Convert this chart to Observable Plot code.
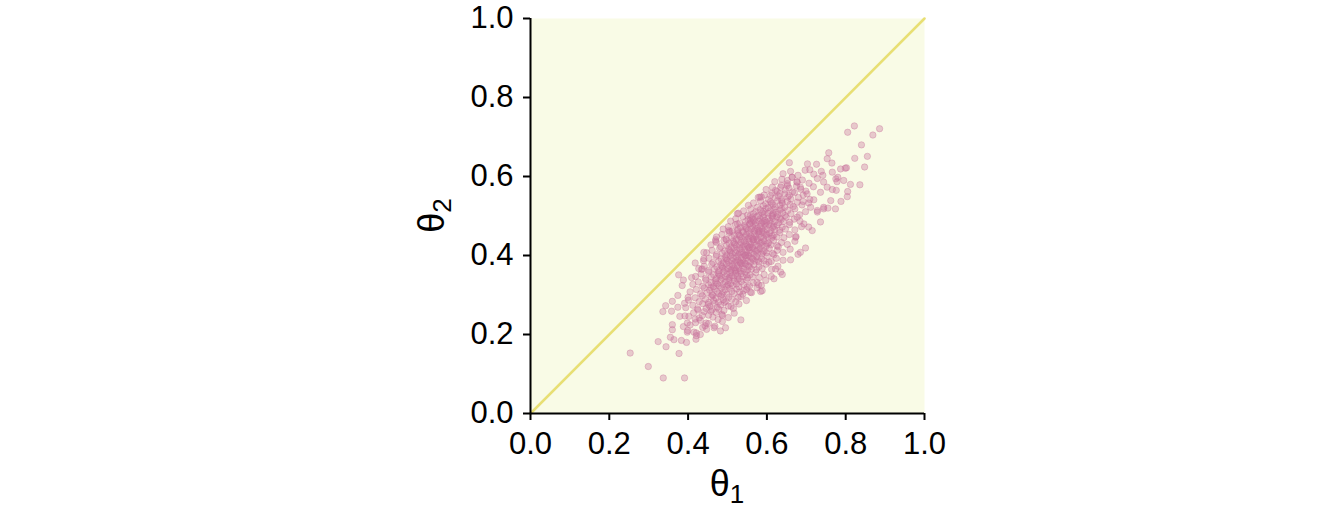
<!DOCTYPE html>
<html><head><meta charset="utf-8">
<script src="https://cdn.jsdelivr.net/npm/d3@7"></script>
<script src="https://cdn.jsdelivr.net/npm/@observablehq/plot@0.6"></script>
<style>
body{margin:0;background:#fff;}
#chart g[aria-label="x-axis tick label"], #chart g[aria-label="y-axis tick label"] { font-size: 31px !important; }
</style>
</head><body><div id="chart"></div>
<script>
const xTicks = [0, 0.2, 0.4, 0.6, 0.8, 1.0];
const yTicks = [0, 0.2, 0.4, 0.6, 0.8, 1.0];
const xLabel = "θ"; const xSub = "1";
const yLabel = "θ"; const ySub = "2";
const diagonal = [[0, 0], [1, 1]];

const upperTail = [[0.822,0.728],[0.805,0.712],[0.886,0.721],[0.869,0.705],[0.840,0.680],[0.855,0.651],[0.823,0.646],[0.848,0.624],[0.757,0.660],[0.753,0.645],[0.765,0.634],[0.657,0.635],[0.703,0.632],[0.726,0.631],[0.799,0.621],[0.780,0.598],[0.795,0.590],[0.812,0.580],[0.836,0.579],[0.805,0.562],[0.804,0.549],[0.788,0.537],[0.762,0.539],[0.774,0.518],[0.755,0.520],[0.744,0.518],[0.728,0.510],[0.736,0.485],[0.715,0.463],[0.586,0.548],[0.709,0.617],[0.738,0.613],[0.742,0.603],[0.766,0.611],[0.787,0.619],[0.802,0.622],[0.775,0.594],[0.778,0.587],[0.744,0.586],[0.753,0.573],[0.766,0.567],[0.776,0.565],[0.736,0.560],[0.719,0.541],[0.702,0.556],[0.692,0.537],[0.677,0.586],[0.664,0.598],[0.652,0.590],[0.635,0.573],[0.622,0.565],[0.609,0.552],[0.685,0.573],[0.711,0.522],[0.728,0.514],[0.744,0.522],[0.677,0.497],[0.694,0.480],[0.706,0.472]];

const lowerEdge = [[0.698,0.419],[0.679,0.403],[0.660,0.389],[0.639,0.352],[0.586,0.324],[0.584,0.309],[0.622,0.366],[0.605,0.383],[0.673,0.446],[0.685,0.408],[0.635,0.358],[0.618,0.341],[0.588,0.311],[0.541,0.311],[0.575,0.332],[0.558,0.307],[0.550,0.320],[0.527,0.294],[0.509,0.271],[0.534,0.237],[0.495,0.217],[0.487,0.248],[0.446,0.229]];

const upperEdge = [[0.582,0.548],[0.525,0.506],[0.558,0.501],[0.525,0.480],[0.506,0.461],[0.470,0.440],[0.497,0.440],[0.525,0.463],[0.561,0.484],[0.558,0.489],[0.503,0.463],[0.440,0.408],[0.440,0.392],[0.436,0.366],[0.470,0.436],[0.418,0.381],[0.434,0.365],[0.409,0.344],[0.388,0.338],[0.376,0.351],[0.385,0.324]];

const lowerTail = [[0.253,0.153],[0.299,0.119],[0.337,0.090],[0.391,0.090],[0.377,0.152],[0.344,0.169],[0.324,0.182],[0.355,0.193],[0.364,0.187],[0.383,0.185],[0.396,0.180],[0.420,0.188],[0.421,0.197],[0.431,0.200],[0.360,0.212],[0.360,0.225],[0.388,0.220],[0.398,0.229],[0.399,0.210],[0.415,0.206],[0.336,0.258],[0.343,0.273],[0.360,0.284],[0.358,0.259],[0.374,0.269],[0.379,0.246],[0.391,0.279],[0.400,0.294],[0.402,0.246],[0.419,0.230],[0.424,0.265],[0.374,0.299]];

const core = [
[0.398,0.206],[0.447,0.213],[0.466,0.217],[0.421,0.204],[0.482,0.209],[0.437,0.218],
[0.405,0.224],[0.431,0.236],[0.452,0.228],[0.468,0.221],[0.487,0.233],[0.418,0.239],[0.476,0.238],[0.443,0.222],
[0.392,0.247],[0.414,0.255],[0.428,0.242],[0.441,0.258],[0.452,0.249],[0.463,0.244],[0.471,0.256],[0.486,0.251],[0.502,0.243],[0.436,0.248],[0.458,0.259],[0.517,0.254],
[0.394,0.268],[0.412,0.274],[0.425,0.262],[0.437,0.278],[0.446,0.266],[0.455,0.271],[0.461,0.263],[0.468,0.279],[0.474,0.269],[0.483,0.275],[0.491,0.261],[0.502,0.272],[0.515,0.266],[0.529,0.277],[0.451,0.276],[0.478,0.264],
[0.401,0.287],[0.418,0.293],[0.428,0.283],[0.436,0.298],[0.444,0.289],[0.452,0.281],[0.459,0.295],[0.465,0.286],[0.471,0.292],[0.477,0.282],[0.483,0.297],[0.489,0.288],[0.496,0.284],[0.503,0.294],[0.511,0.289],[0.521,0.283],[0.534,0.296],[0.548,0.286],[0.463,0.299],[0.492,0.281],
[0.405,0.308],[0.421,0.314],[0.432,0.303],[0.441,0.318],[0.448,0.306],[0.455,0.312],[0.461,0.301],[0.467,0.316],[0.473,0.309],[0.478,0.303],[0.484,0.318],[0.489,0.307],[0.494,0.313],[0.499,0.302],[0.505,0.317],[0.511,0.309],[0.517,0.304],[0.523,0.315],[0.531,0.308],[0.539,0.302],[0.548,0.314],[0.561,0.306],[0.575,0.318],[0.458,0.319],[0.486,0.301],
[0.412,0.327],[0.426,0.333],[0.437,0.322],[0.445,0.338],[0.452,0.326],[0.458,0.331],[0.464,0.321],[0.469,0.336],[0.474,0.328],[0.479,0.323],[0.484,0.339],[0.489,0.327],[0.494,0.333],[0.498,0.322],[0.503,0.337],[0.508,0.329],[0.513,0.324],[0.518,0.335],[0.523,0.328],[0.529,0.321],[0.535,0.334],[0.541,0.326],[0.548,0.338],[0.556,0.323],[0.565,0.331],[0.579,0.326],[0.597,0.337],[0.471,0.331],[0.501,0.326],[0.526,0.339],
[0.419,0.347],[0.433,0.353],[0.444,0.342],[0.452,0.358],[0.459,0.346],[0.465,0.351],[0.471,0.341],[0.476,0.356],[0.481,0.348],[0.486,0.343],[0.491,0.359],[0.495,0.347],[0.499,0.353],[0.503,0.342],[0.508,0.357],[0.512,0.349],[0.516,0.344],[0.521,0.355],[0.525,0.348],[0.530,0.341],[0.535,0.354],[0.540,0.346],[0.545,0.358],[0.551,0.343],[0.557,0.351],[0.564,0.346],[0.572,0.357],[0.581,0.344],[0.593,0.352],[0.611,0.347],[0.478,0.352],[0.506,0.346],[0.528,0.358],[0.548,0.351],
[0.427,0.367],[0.441,0.373],[0.452,0.362],[0.460,0.378],[0.467,0.366],[0.473,0.371],[0.478,0.361],[0.483,0.376],[0.488,0.368],[0.493,0.363],[0.497,0.379],[0.501,0.367],[0.505,0.373],[0.509,0.362],[0.513,0.377],[0.517,0.369],[0.521,0.364],[0.525,0.375],[0.529,0.368],[0.533,0.361],[0.537,0.374],[0.541,0.366],[0.546,0.378],[0.551,0.363],[0.556,0.371],[0.561,0.366],[0.567,0.377],[0.573,0.364],[0.580,0.372],[0.588,0.367],[0.598,0.378],[0.612,0.365],[0.628,0.373],[0.486,0.372],[0.511,0.366],[0.535,0.379],[0.553,0.374],[0.519,0.361],
[0.439,0.387],[0.453,0.393],[0.463,0.382],[0.471,0.398],[0.478,0.386],[0.484,0.391],[0.489,0.381],[0.494,0.396],[0.499,0.388],[0.503,0.383],[0.507,0.399],[0.511,0.387],[0.515,0.393],[0.519,0.382],[0.523,0.397],[0.527,0.389],[0.531,0.384],[0.535,0.395],[0.539,0.388],[0.543,0.381],[0.547,0.394],[0.551,0.386],[0.555,0.398],[0.559,0.383],[0.564,0.391],[0.569,0.386],[0.574,0.397],[0.580,0.384],[0.586,0.392],[0.593,0.387],[0.601,0.398],[0.611,0.385],[0.624,0.393],[0.641,0.388],[0.497,0.392],[0.521,0.386],[0.545,0.399],[0.562,0.394],[0.533,0.381],[0.577,0.389],
[0.447,0.407],[0.461,0.413],[0.472,0.402],[0.480,0.418],[0.487,0.406],[0.493,0.411],[0.498,0.401],[0.503,0.416],[0.508,0.408],[0.512,0.403],[0.516,0.419],[0.520,0.407],[0.524,0.413],[0.528,0.402],[0.532,0.417],[0.536,0.409],[0.540,0.404],[0.544,0.415],[0.548,0.408],[0.552,0.401],[0.556,0.414],[0.560,0.406],[0.564,0.418],[0.568,0.403],[0.572,0.411],[0.577,0.406],[0.582,0.417],[0.587,0.404],[0.593,0.412],[0.599,0.407],[0.606,0.418],[0.615,0.405],[0.626,0.413],[0.641,0.408],[0.659,0.416],[0.506,0.412],[0.530,0.406],[0.554,0.419],[0.575,0.414],[0.545,0.401],[0.590,0.409],[0.618,0.402],
[0.458,0.427],[0.472,0.433],[0.483,0.422],[0.491,0.438],[0.498,0.426],[0.504,0.431],[0.509,0.421],[0.514,0.436],[0.519,0.428],[0.523,0.423],[0.527,0.439],[0.531,0.427],[0.535,0.433],[0.539,0.422],[0.543,0.437],[0.547,0.429],[0.551,0.424],[0.555,0.435],[0.559,0.428],[0.563,0.421],[0.567,0.434],[0.571,0.426],[0.575,0.438],[0.579,0.423],[0.583,0.431],[0.588,0.426],[0.593,0.437],[0.598,0.424],[0.604,0.432],[0.610,0.427],[0.617,0.438],[0.626,0.425],[0.637,0.433],[0.652,0.428],[0.671,0.436],[0.517,0.432],[0.541,0.426],[0.565,0.439],[0.586,0.434],[0.556,0.421],[0.601,0.429],[0.629,0.422],
[0.472,0.447],[0.486,0.453],[0.496,0.442],[0.504,0.458],[0.511,0.446],[0.517,0.451],[0.522,0.441],[0.527,0.456],[0.532,0.448],[0.536,0.443],[0.540,0.459],[0.544,0.447],[0.548,0.453],[0.552,0.442],[0.556,0.457],[0.560,0.449],[0.564,0.444],[0.568,0.455],[0.572,0.448],[0.576,0.441],[0.580,0.454],[0.584,0.446],[0.588,0.458],[0.592,0.443],[0.597,0.451],[0.602,0.446],[0.607,0.457],[0.612,0.444],[0.618,0.452],[0.625,0.447],[0.633,0.458],[0.643,0.445],[0.657,0.453],[0.674,0.448],[0.530,0.452],[0.554,0.446],[0.578,0.459],[0.599,0.454],[0.566,0.441],[0.614,0.449],
[0.489,0.467],[0.502,0.473],[0.512,0.462],[0.520,0.478],[0.527,0.466],[0.533,0.471],[0.538,0.461],[0.543,0.476],[0.548,0.468],[0.552,0.463],[0.556,0.479],[0.560,0.467],[0.564,0.473],[0.568,0.462],[0.572,0.477],[0.576,0.469],[0.580,0.464],[0.584,0.475],[0.588,0.468],[0.592,0.461],[0.596,0.474],[0.600,0.466],[0.605,0.478],[0.610,0.463],[0.615,0.471],[0.620,0.466],[0.626,0.477],[0.632,0.464],[0.639,0.472],[0.647,0.467],[0.657,0.478],[0.671,0.465],[0.688,0.473],[0.546,0.472],[0.570,0.466],[0.594,0.479],[0.617,0.474],[0.582,0.461],
[0.508,0.487],[0.521,0.493],[0.531,0.482],[0.539,0.498],[0.546,0.486],[0.552,0.491],[0.557,0.481],[0.562,0.496],[0.567,0.488],[0.571,0.483],[0.575,0.499],[0.579,0.487],[0.583,0.493],[0.587,0.482],[0.591,0.497],[0.595,0.489],[0.599,0.484],[0.603,0.495],[0.607,0.488],[0.611,0.481],[0.615,0.494],[0.620,0.486],[0.625,0.498],[0.630,0.483],[0.636,0.491],[0.642,0.486],[0.649,0.497],[0.658,0.484],[0.669,0.492],[0.684,0.487],[0.565,0.492],[0.589,0.486],[0.613,0.499],[0.633,0.494],
[0.528,0.507],[0.541,0.513],[0.551,0.502],[0.559,0.518],[0.566,0.506],[0.572,0.511],[0.578,0.501],[0.583,0.516],[0.588,0.508],[0.593,0.503],[0.598,0.519],[0.603,0.507],[0.608,0.513],[0.613,0.502],[0.618,0.517],[0.623,0.509],[0.628,0.504],[0.634,0.515],[0.640,0.508],[0.646,0.501],[0.653,0.514],[0.661,0.506],[0.671,0.518],[0.683,0.503],[0.698,0.511],[0.591,0.512],[0.616,0.506],[0.637,0.519],
[0.553,0.527],[0.566,0.533],[0.576,0.522],[0.584,0.538],[0.591,0.526],[0.597,0.531],[0.603,0.521],[0.609,0.536],[0.615,0.528],[0.621,0.523],[0.627,0.539],[0.633,0.527],[0.639,0.533],[0.645,0.522],[0.652,0.537],[0.659,0.529],[0.667,0.524],[0.677,0.535],[0.689,0.528],[0.706,0.533],[0.612,0.532],[0.638,0.538],
[0.578,0.547],[0.593,0.553],[0.604,0.542],[0.613,0.558],[0.621,0.546],[0.629,0.551],[0.637,0.541],[0.645,0.556],[0.653,0.548],[0.661,0.543],[0.670,0.559],[0.680,0.547],[0.692,0.553],[0.709,0.542],[0.633,0.557],[0.657,0.552],
[0.598,0.567],[0.614,0.573],[0.626,0.562],[0.637,0.578],[0.647,0.566],[0.656,0.571],[0.665,0.561],[0.675,0.576],[0.686,0.568],[0.699,0.563],[0.718,0.574],[0.652,0.577],
[0.620,0.587],[0.638,0.593],[0.652,0.582],[0.664,0.598],[0.676,0.586],[0.690,0.591],[0.707,0.583],[0.728,0.595],
[0.641,0.607],[0.660,0.613],[0.679,0.603],[0.697,0.616],[0.719,0.606]
];

const samples = [...core, ...upperEdge, ...lowerEdge, ...upperTail, ...lowerTail];

const font = "'Liberation Sans', Arial, Helvetica, sans-serif";
const pointColor = "#c8739b";

const chart = Plot.plot({
  width: 1344, height: 528,
  marginLeft: 530, marginRight: 420, marginTop: 18, marginBottom: 115,
  style: {fontFamily: font, fontSize: "31px", background: "#ffffff", color: "#000000", overflow: "visible"},
  x: {domain: [0, 1], label: null},
  y: {domain: [0, 1], label: null},
  marks: [
    Plot.frame({fill: "#f9fbe6", stroke: "none"}),
    Plot.line(diagonal, {x: d => d[0], y: d => d[1], stroke: "#e8df74", strokeWidth: 2.5}),
    Plot.dot(samples, {x: d => d[0], y: d => d[1], r: 3.2, fill: pointColor, fillOpacity: 0.36, stroke: pointColor, strokeOpacity: 0.36, strokeWidth: 1}),
    Plot.ruleY([0], {stroke: "#000", strokeWidth: 2}),
    Plot.ruleX([0], {stroke: "#000", strokeWidth: 2}),
    Plot.axisX(xTicks, {tickSize: 7, tickPadding: 11, strokeWidth: 2, tickFormat: d => d.toFixed(1), fontSize: 31, label: null}),
    Plot.axisY(yTicks, {tickSize: 7, tickPadding: 10, strokeWidth: 2, tickFormat: d => d.toFixed(1), fontSize: 31, label: null})
  ]
});
document.getElementById("chart").appendChild(chart);

const svg = d3.select(chart);
const sx = chart.scale("x"), sy = chart.scale("y");
const xl = svg.append("text")
  .attr("x", sx.apply(0.5)).attr("y", 496)
  .attr("text-anchor", "middle")
  .style("font-family", font).style("font-size", "36px").attr("fill", "#000");
xl.append("tspan").text(xLabel);
xl.append("tspan").text(xSub).attr("dy", 7).style("font-size", "26px");

const yl = svg.append("text")
  .attr("transform", `translate(444,${sy.apply(0.5)}) rotate(-90)`)
  .attr("text-anchor", "middle")
  .style("font-family", font).style("font-size", "36px").attr("fill", "#000");
yl.append("tspan").text(yLabel);
yl.append("tspan").text(ySub).attr("dy", 7).style("font-size", "26px");
</script>
</body></html>
